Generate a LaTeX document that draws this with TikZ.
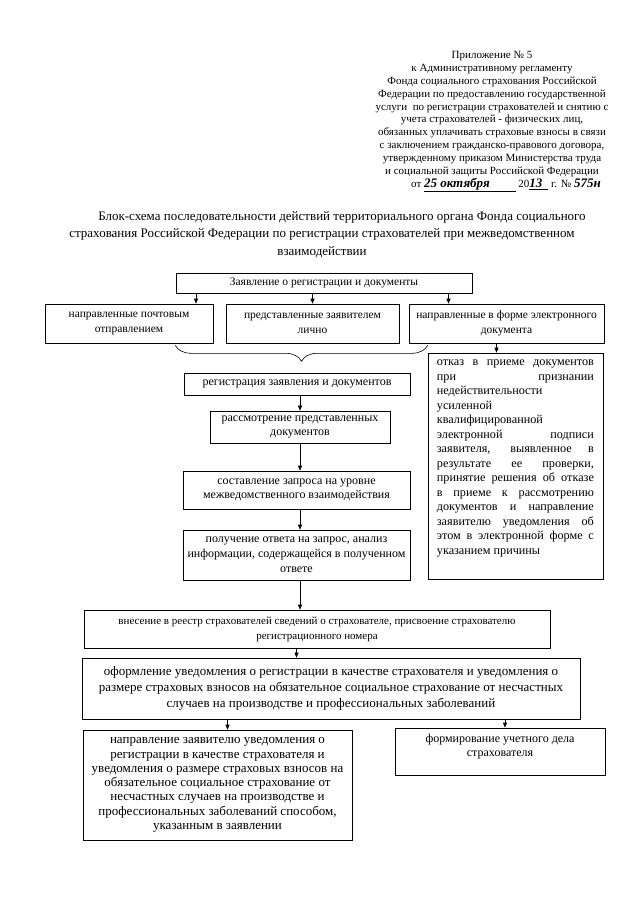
\documentclass[tikz,border=0pt]{standalone}
\usepackage{fontspec}
\setmainfont{Liberation Serif}
\usetikzlibrary{arrows.meta,decorations.pathreplacing,calc}

\newcommand{\hand}[1]{{\fontsize{13}{13}\selectfont\textit{\textbf{#1}}}}
\newcommand{\jl}[1]{\makebox[157pt][s]{#1}}

\begin{document}
\begin{tikzpicture}[x=1pt, y=-1pt,
    box/.style={draw, line width=0.6pt, align=center, inner sep=2pt, font=\fontsize{12}{14}\selectfont},
    txt/.style={align=center, inner sep=0pt, font=\fontsize{11}{12.9}\selectfont},
    arr/.style={-{Triangle[length=5pt,width=4pt]}, line width=0.6pt},
    brace/.style={decorate, decoration={brace, mirror, amplitude=16pt}, line width=0.6pt}]
  \useasboundingbox (0,0) rectangle (640,905);

  % header and title
  \node[txt, anchor=north] (appendix) at (492,51) {Приложение № 5\\
    к Административному регламенту\\
    Фонда социального страхования Российской\\
    Федерации по предоставлению государственной\\
    услуги \ по регистрации страхователей и снятию с\\
    учета страхователей - физических лиц,\\
    обязанных уплачивать страховые взносы в связи\\
    с заключением гражданско-правового договора,\\
    утвержденному приказом Министерства труда\\
    и социальной защиты Российской Федерации\\
    \hspace*{28pt}от \underline{\hand{25 октября}\hspace{26pt}} 20\underline{\hand{13}\hspace{6pt}} г. № \hand{575н}};
  \node[txt, anchor=north, font=\fontsize{13}{17.5}\selectfont] (title) at (322,211)
    {\hspace*{40pt}Блок-схема последовательности действий территориального органа Фонда социального\\
    страхования Российской Федерации по регистрации страхователей при межведомственном\\
    взаимодействии};

  % incoming documents
  \node[box, minimum width=296, minimum height=20, font=\fontsize{11.5}{14}\selectfont] (apply) at (324,283) {Заявление о регистрации и документы};
  \node[box, minimum width=168, minimum height=39, font=\fontsize{11.5}{15}\selectfont] (post) at (129,323.5) {направленные почтовым\\отправлением};
  \node[box, minimum width=173, minimum height=39, font=\fontsize{11.5}{15}\selectfont] (person) at (312.5,323.5) {представленные заявителем\\лично};
  \node[box, minimum width=195, minimum height=39, font=\fontsize{11.5}{15}\selectfont] (online) at (506.5,323.5) {направленные в форме электронного\\документа};

  \coordinate (a1) at ([xshift=67]post.north);
  \draw[arr] (a1 |- apply.south) -- (a1);
  \draw[arr] (apply.south -| person.north) -- (person.north);
  \coordinate (a3) at ([xshift=-58]online.north);
  \draw[arr] (a3 |- apply.south) -- (a3);
  \draw[brace] ([xshift=-38,yshift=-2]post.south east) -- ([xshift=19,yshift=-2]online.south west);

  % refusal
  \node[box, minimum width=175, minimum height=226] (refuse) at (515.5,466) {};
  \node[txt, anchor=north west, align=left, font=\fontsize{12.2}{14.5}\selectfont] (refusetext) at ([xshift=9,yshift=-7]refuse.north west)
    {\jl{отказ в приеме документов}\\
    \jl{при признании}\\
    недействительности\\
    усиленной\\
    квалифицированной\\
    \jl{электронной подписи}\\
    \jl{заявителя, выявленное в}\\
    \jl{результате ее проверки,}\\
    \jl{принятие решения об отказе}\\
    \jl{в приеме к рассмотрению}\\
    \jl{документов и направление}\\
    \jl{заявителю уведомления об}\\
    \jl{этом в электронной форме с}\\
    указанием причины};
  \coordinate (a4) at ([xshift=-10]online.south);
  \draw[arr] (a4) -- (a4 |- refuse.north);

  % main line
  \node[box, minimum width=226, minimum height=22] (register) at (297,384) {регистрация заявления и документов};
  \node[box, minimum width=180, minimum height=32] (examine) at (300,427) {рассмотрение представленных\\документов};
  \node[box, minimum width=227, minimum height=38] (request) at (296.5,490) {составление запроса на уровне\\межведомственного взаимодействия};
  \node[box, minimum width=227, minimum height=50, font=\fontsize{12}{15}\selectfont] (answer) at (296.5,555) {получение ответа на запрос, анализ\\информации, содержащейся в полученном\\ответе};
  \node[box, minimum width=466, minimum height=38, font=\fontsize{11}{15}\selectfont] (entry) at (317,629)
    {внесение в реестр страхователей сведений о страхователе, присвоение страхователю\\регистрационного номера};
  \node[box, minimum width=498, minimum height=61, font=\fontsize{13}{16}\selectfont] (notice) at (331,688.5)
    {оформление уведомления о регистрации в качестве страхователя и уведомления о\\
    размере страховых взносов на обязательное социальное страхование от несчастных\\
    случаев на производстве и профессиональных заболеваний};
  \node[box, minimum width=269, minimum height=110, font=\fontsize{13}{14.3}\selectfont] (send) at (217.5,785)
    {направление заявителю уведомления о\\
    регистрации в качестве страхователя и\\
    уведомления о размере страховых взносов на\\
    обязательное социальное страхование от\\
    несчастных случаев на производстве и\\
    профессиональных заболеваний способом,\\
    указанным в заявлении};
  \node[box, minimum width=210, minimum height=47] (casefile) at (500,751.5) {};
  \node[txt, anchor=north, font=\fontsize{12}{14}\selectfont] (casetext) at ([yshift=-6]casefile.north)
    {формирование учетного дела\\страхователя};

  \draw[arr] (register.south -| examine.north) -- (examine.north);
  \draw[arr] (examine.south) -- (examine.south |- request.north);
  \draw[arr] (request.south -| examine.south) -- (answer.north -| examine.south);
  \draw[arr] (answer.south -| examine.south) -- (entry.north -| examine.south);
  \draw[arr] (entry.south -| request.south) -- (notice.north -| request.south);
  \coordinate (a5) at ([xshift=10]send.north);
  \draw[arr] (a5 |- notice.south) -- (a5);
  \coordinate (a6) at ([xshift=5]casefile.north);
  \draw[arr] (a6 |- notice.south) -- (a6);
\end{tikzpicture}
\end{document}
